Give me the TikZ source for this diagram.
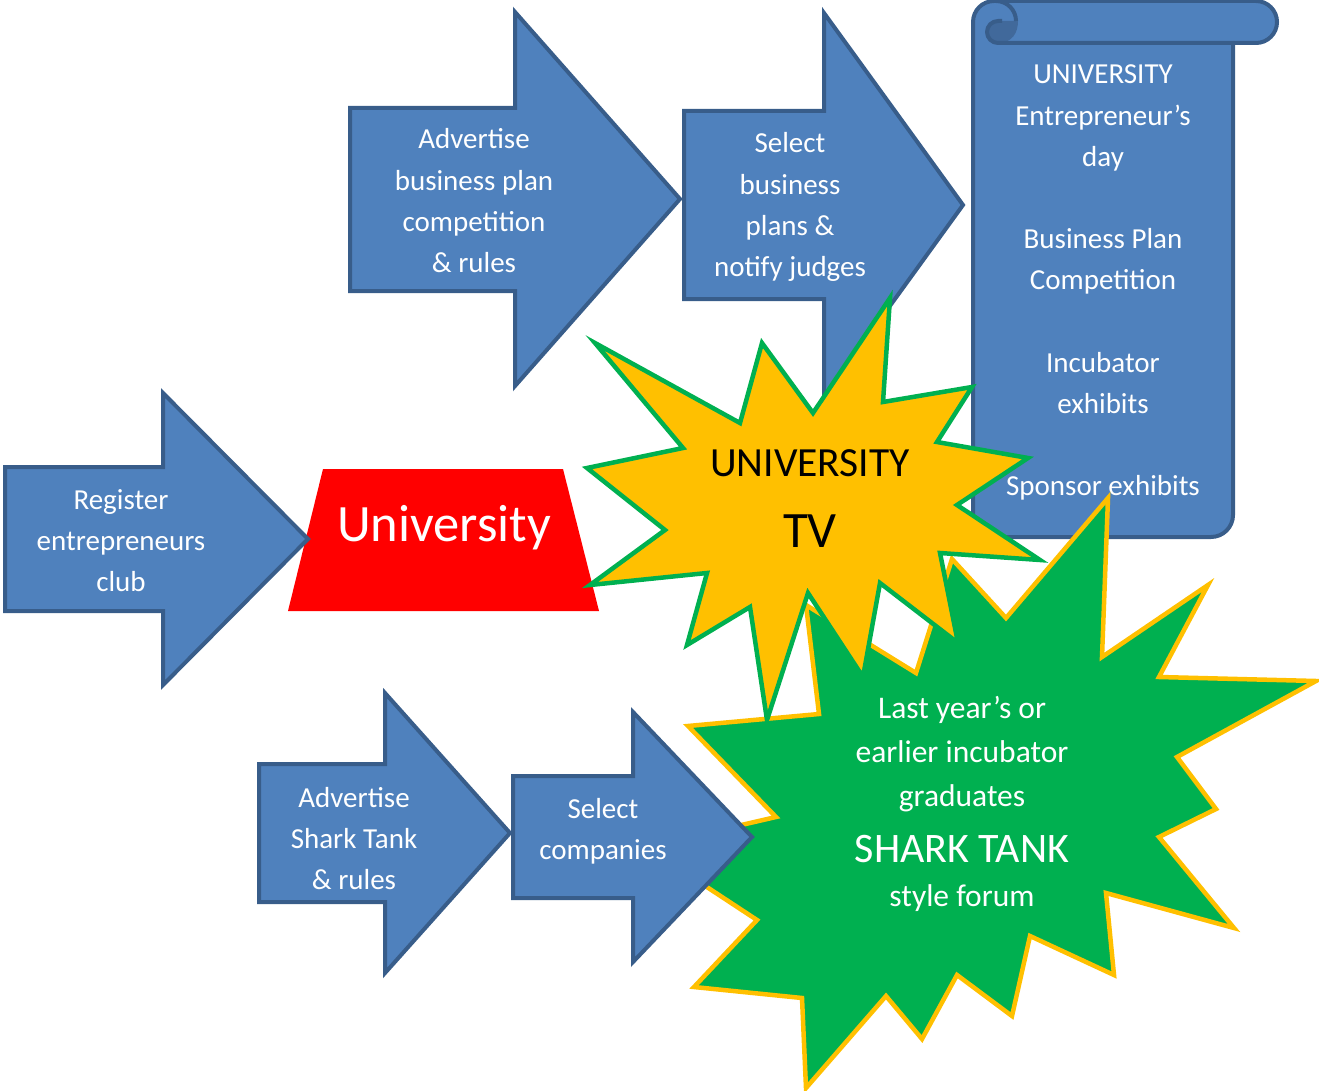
\documentclass[tikz,border=0pt]{standalone}
\usepackage{fontspec}
\setmainfont{Carlito}
\definecolor{bfill}{HTML}{4F81BD}
\definecolor{bline}{HTML}{385D8A}
\definecolor{bdark}{HTML}{41699B}
\definecolor{ured}{HTML}{FF0000}
\definecolor{syel}{HTML}{FFC000}
\definecolor{sgrn}{HTML}{00B050}
\newcommand{\mlines}[1]{\begin{tabular}[t]{@{}c@{}}#1\end{tabular}}
% block arrow: left, top, bottom, shaft end, head top, head bottom, tip x, tip y
\newcommand{\blockarr}[8]{\draw[blockarrow] (#1,#2) -- (#4,#2) -- (#4,#5) -- (#7,#8) -- (#4,#6) -- (#4,#3) -- (#1,#3) -- cycle;}
\begin{document}
\begin{tikzpicture}[x=1pt,y=-1pt,
  blockarrow/.style={fill=bfill,draw=bline,line width=4pt,line join=miter},
  scrollline/.style={draw=bline,line width=4pt,line join=round},
  lbl/.style={anchor=base,inner sep=0pt,text=white,font=\fontsize{29}{41.2}\selectfont},
  yburst/.style={fill=syel,draw=sgrn,line width=4.5pt,line join=miter,miter limit=20},
  gburst/.style={fill=sgrn,draw=syel,line width=4.5pt,line join=miter,miter limit=20}]
\useasboundingbox (0,0) rectangle (1319,1091);

% ---- scroll ----
\fill[bfill] (973,537) -- (973,22) arc[start angle=180,end angle=270,radius=21]
  -- (1256,1) arc[start angle=270,end angle=450,radius=21]
  -- (1233,43) -- (1233,515) arc[start angle=0,end angle=90,radius=22] -- cycle;
\fill[bdark] (1018,21) -- (998,21) arc[start angle=270,end angle=90,radius=11]
  .. controls (1012,43) and (1018,33) .. (1018,21) -- cycle;
\draw[scrollline] (973,537) -- (973,22) arc[start angle=180,end angle=270,radius=21]
  -- (1256,1) arc[start angle=270,end angle=450,radius=21]
  -- (1233,43) -- (1233,515) arc[start angle=0,end angle=90,radius=22] -- cycle;
\draw[scrollline] (1233,43) -- (998,43) arc[start angle=90,end angle=270,radius=11] -- (1002,21);
\draw[scrollline] (996,1) arc[start angle=270,end angle=360,radius=20];
\node[lbl] (scrolltext) at (1103,84) {\mlines{UNIVERSITY\\Entrepreneur’s\\day\\ \\Business Plan\\Competition\\ \\Incubator\\exhibits\\ \\Sponsor exhibits}};

% ---- top arrows ----
\blockarr{350}{108}{291}{515}{12}{386}{680}{199}
\node[lbl] (advbp) at (474,149) {\mlines{Advertise\\business plan\\competition\\\& rules}};
\blockarr{684}{111}{299}{824}{13}{397}{963}{205}
\node[lbl] (selbp) at (790,153) {\mlines{Select\\business\\plans \&\\notify judges}};

% ---- University trapezoid ----
\fill[ured] (323,469) -- (563,469) -- (599,611) -- (288,611) -- cycle;
\node[anchor=base,inner sep=0pt,text=white,font=\fontsize{52.5}{62}\selectfont] (univ) at (444,541) {University};

% ---- register arrow ----
\blockarr{5}{467}{611}{163}{393}{685}{308}{539}
\node[lbl] (reg) at (121,509) {\mlines{Register\\entrepreneurs\\club}};

% ---- green burst ----
\draw[gburst] (1108,498) -- (1102,657) -- (1208,585) -- (1159,677) -- (1316,681) -- (1177,757)
  -- (1216,809) -- (1159,837) -- (1234,928) -- (1106,893) -- (1114,975) -- (1030,936)
  -- (1012,1016) -- (957,975) -- (922,1039) -- (886,996) -- (806,1088) -- (802,998)
  -- (694,987) -- (757,920) -- (646,847) -- (776,817) -- (688,726) -- (819,714)
  -- (806,605) -- (916,673) -- (952,559) -- (1006,618) -- cycle;
\node[anchor=base,inner sep=0pt,text=white,font=\fontsize{31.5}{44}\selectfont] (shark) at (962,718)
  {\mlines{Last year’s or\\earlier incubator\\graduates\\[12pt]{\fontsize{42}{44}\selectfont SHARK TANK}\\style forum}};

% ---- yellow burst ----
\draw[yburst] (595,343) -- (740,423) -- (762,343) -- (813,413) -- (890,298) -- (883,402)
  -- (972,387) -- (937,442) -- (1028,458) -- (957,505) -- (1040,560) -- (940,553)
  -- (958,643) -- (880,583) -- (863,677) -- (808,593) -- (767,720) -- (750,607)
  -- (687,645) -- (707,573) -- (590,585) -- (665,530) -- (587,468) -- (683,448) -- cycle;
\node[anchor=base,inner sep=0pt,text=black,font=\fontsize{41.5}{49}\selectfont] (tvone) at (810,476) {UNIVERSITY};
\node[anchor=base,inner sep=0pt,text=black,font=\fontsize{51}{60}\selectfont] (tvtwo) at (810,547) {TV};

% ---- bottom arrows ----
\blockarr{259}{764}{902}{385}{693}{973}{510}{833}
\node[lbl] (advst) at (354,807) {\mlines{Advertise\\Shark Tank\\\& rules}};
\blockarr{513}{776}{898}{633}{712}{962}{752}{837}
\node[lbl] (selco) at (603,818) {\mlines{Select\\companies}};
\end{tikzpicture}
\end{document}
